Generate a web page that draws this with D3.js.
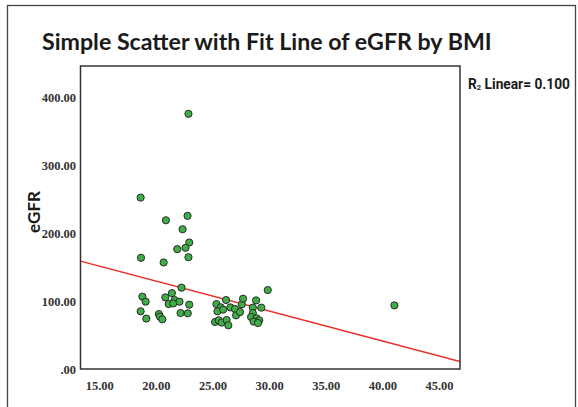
<!DOCTYPE html>
<html lang="en">
<head>
  <meta charset="UTF-8">
  <title>Simple Scatter with Fit Line of eGFR by BMI</title>
  <script src="https://d3js.org/d3.v7.min.js"></script>
  <style>
    html, body { margin: 0; padding: 0; background: #fff; }
    svg { display: block; }
    .tick-label { font-family: "Liberation Serif", "DejaVu Serif", serif; font-weight: bold; font-size: 12.5px; fill: #333; }
  </style>
</head>
<body>
  <div id="chart"></div>
  <script>
    // values
    const bmi = [
      22.88, 18.66, 20.89, 22.80, 22.36, 22.95, 21.89, 22.62, 18.69, 20.69,
      22.88, 22.27, 18.81, 19.10, 18.66, 19.16, 20.84, 21.42, 21.65, 21.13,
      21.54, 22.09, 22.95, 20.27, 20.36, 20.57, 22.18, 22.82, 26.20, 25.35,
      25.73, 25.44, 25.94, 25.23, 25.55, 25.81, 26.25, 26.40, 26.58, 26.99,
      27.08, 27.43, 27.59, 27.70, 28.85, 28.56, 29.31, 28.56, 28.41, 28.89,
      28.63, 29.13, 29.02, 29.88, 41.06
    ];
    const egfr = [
      375.6, 252.3, 218.9, 225.4, 205.7, 186.2, 176.4, 178.4, 163.7, 156.8,
      164.6, 119.7, 106.5, 99.1, 84.9, 74.2, 105.4, 111.7, 101.5, 95.6,
      96.6, 99.1, 94.7, 80.9, 77.1, 73.1, 82.4, 81.9, 101.5, 95.6,
      90.7, 84.9, 87.4, 69.2, 71.7, 68.3, 72.1, 64.3, 90.7, 88.3,
      79.0, 83.8, 95.2, 103.5, 101.0, 90.3, 90.3, 82.4, 76.5, 74.6,
      69.8, 71.7, 67.7, 116.2, 93.7
    ];
    const xTicks = [15, 20, 25, 30, 35, 40, 45];
    const yTicks = [0, 100, 200, 300, 400];
    const fitIntercept = 217.6;
    const fitSlope = -4.409;
    const rSquared = 0.100;

    const width = 578, height = 407;
    const plot = { left: 80.5, top: 66, right: 460, bottom: 369 };

    const svg = d3.select('#chart').append('svg')
      .attr('width', width)
      .attr('height', height);

    // outer frame
    svg.append('rect')
      .attr('x', 7.5).attr('y', 5.5)
      .attr('width', 568).attr('height', 420)
      .attr('fill', 'none')
      .attr('stroke', '#444')
      .attr('stroke-width', 1.3);

    const x = d3.scaleLinear().domain([13.35, 46.85]).range([plot.left, plot.right]);
    const y = d3.scaleLinear().domain([0, 446]).range([plot.bottom, plot.top]);

    // title, scaled to span the width it has in the picture
    const title = svg.append('text')
      .attr('x', 42).attr('y', 50)
      .attr('font-family', 'Lato, "Open Sans", sans-serif')
      .attr('font-weight', 'bold')
      .attr('font-size', 21)
      .attr('fill', '#1a1a1a')
      .text('Simple Scatter with Fit Line of eGFR by BMI');
    const tw = title.node().getComputedTextLength();
    title.attr('font-size', 21 * 450 / tw);

    // axes (labels only, no tick marks)
    const xAxis = d3.axisBottom(x).tickValues(xTicks).tickSize(0).tickPadding(0)
      .tickFormat(d3.format('.2f'));
    svg.append('g')
      .attr('transform', `translate(0,${plot.bottom + 12})`)
      .call(xAxis)
      .call(g => g.select('.domain').remove())
      .call(g => g.selectAll('text').attr('class', 'tick-label').attr('dy', '0.7em'));

    const yAxis = d3.axisLeft(y).tickValues(yTicks).tickSize(0).tickPadding(4.5)
      .tickFormat(d => d === 0 ? '.00' : d3.format('.2f')(d));
    svg.append('g')
      .attr('transform', `translate(${plot.left},0)`)
      .call(yAxis)
      .call(g => g.select('.domain').remove())
      .call(g => g.selectAll('text').attr('class', 'tick-label'));

    // y label
    svg.append('text')
      .attr('transform', 'translate(40,212) rotate(-90)')
      .attr('text-anchor', 'middle')
      .attr('font-family', 'Lato, "Open Sans", sans-serif')
      .attr('font-weight', 'bold')
      .attr('font-size', 17)
      .attr('fill', '#1a1a1a')
      .text('eGFR');

    // clip for the fit line
    svg.append('clipPath').attr('id', 'plotClip')
      .append('rect')
      .attr('x', plot.left).attr('y', plot.top)
      .attr('width', plot.right - plot.left).attr('height', plot.bottom - plot.top);

    // fit line
    const xd = x.domain();
    const fitPts = xd.map(v => [v, fitIntercept + fitSlope * v]);
    svg.append('path')
      .datum(fitPts)
      .attr('clip-path', 'url(#plotClip)')
      .attr('fill', 'none')
      .attr('stroke', '#ee2a24')
      .attr('stroke-width', 1.4)
      .attr('d', d3.line().x(d => x(d[0])).y(d => y(d[1])));

    // points
    svg.append('g')
      .selectAll('circle')
      .data(bmi.map((b, i) => ({ b, e: egfr[i] })))
      .enter().append('circle')
      .attr('cx', d => x(d.b))
      .attr('cy', d => y(d.e))
      .attr('r', 3.6)
      .attr('fill', '#3fae46')
      .attr('stroke', '#2a2a2a')
      .attr('stroke-width', 1);

    // plot box
    svg.append('rect')
      .attr('x', plot.left).attr('y', plot.top)
      .attr('width', plot.right - plot.left).attr('height', plot.bottom - plot.top)
      .attr('fill', 'none')
      .attr('stroke', '#333')
      .attr('stroke-width', 1.5);

    // R squared note
    const rt = svg.append('text')
      .attr('x', 468).attr('y', 89)
      .attr('font-family', '"Liberation Sans Narrow", "Roboto", "Liberation Sans", sans-serif')
      .attr('font-weight', 'bold')
      .attr('font-size', 14.5)
      .attr('fill', '#1a1a1a')
      .attr('textLength', 102)
      .attr('lengthAdjust', 'spacingAndGlyphs');
    rt.append('tspan').text('R');
    rt.append('tspan').attr('font-size', 8).attr('dy', 1).text('2');
    rt.append('tspan').attr('dy', -1).text(' Linear= ' + d3.format('.3f')(rSquared));
  </script>
</body>
</html>
